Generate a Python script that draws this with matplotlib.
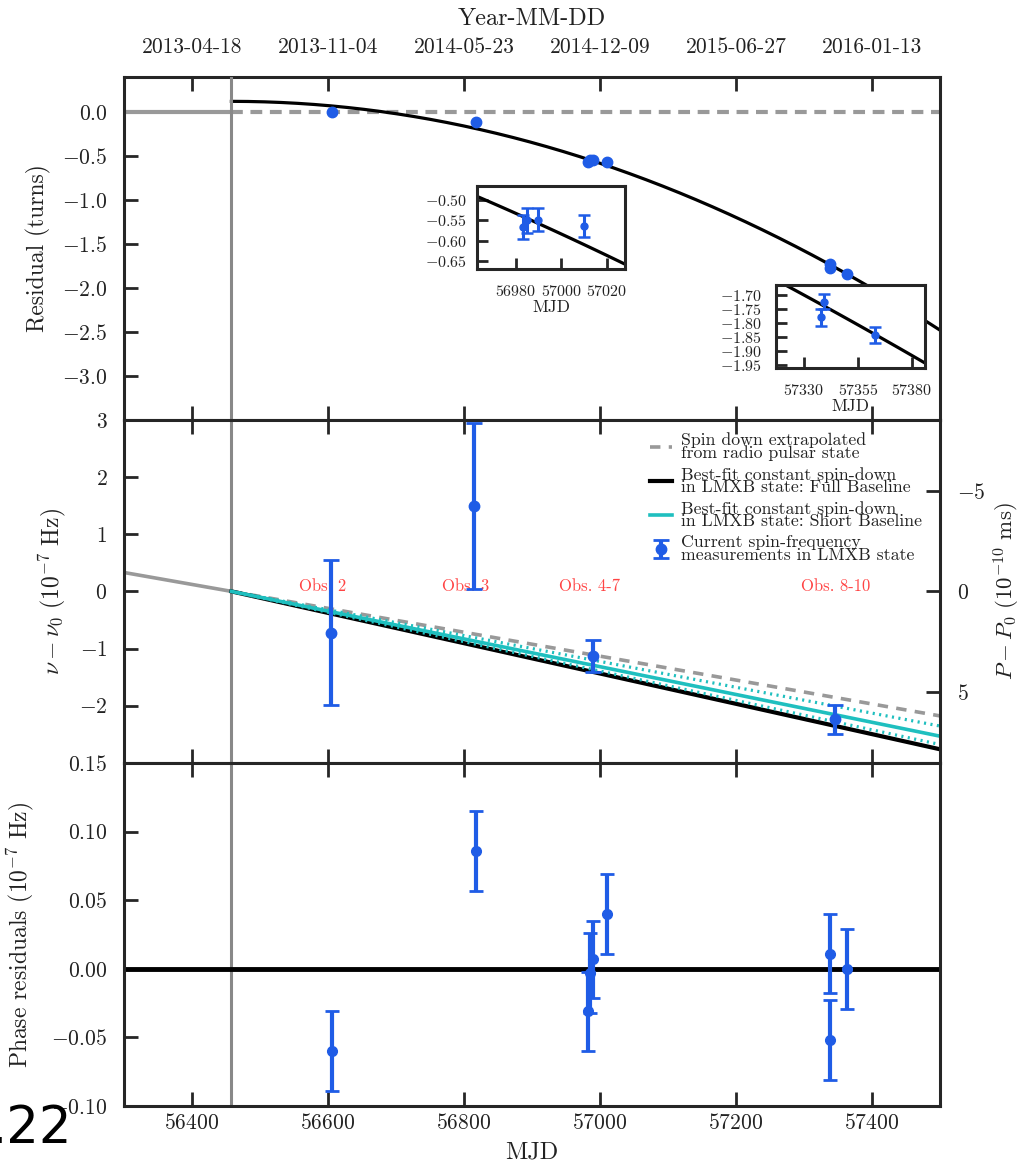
import numpy as np
import matplotlib
matplotlib.use("Agg")
from matplotlib import pyplot as plt
from datetime import datetime, timedelta

plt.rcParams["font.family"] = "serif"
plt.rcParams["font.serif"] = ["cmr10"]
plt.rcParams["mathtext.fontset"] = "cm"
plt.rcParams["axes.formatter.use_mathtext"] = True
plt.rcParams["axes.formatter.useoffset"] = False
plt.rcParams["lines.scale_dashes"] = False

# state change radio pulsar -> LMXB
mjd_transition = 56458
mjd_range = (56300, 57500)
mjd_ticks = [56400, 56600, 56800, 57000, 57200, 57400]

# timing observations (one entry per observation)
obs_mjd = [56606, 56817, 56983, 56985, 56990, 57010, 57338, 57339, 57363]
phase_turns = [0.00, -0.11, -0.567, -0.550, -0.548, -0.564, -1.780, -1.724, -1.843]
phase_err = [0.03, 0.03, 0.03, 0.03, 0.028, 0.028, 0.03, 0.028, 0.028]
resid = [-0.060, 0.086, -0.031, -0.003, 0.007, 0.040, -0.052, 0.011, 0.000]
resid_err = [0.029, 0.029, 0.029, 0.029, 0.028, 0.029, 0.029, 0.029, 0.029]

# quadratic phase model (turns, days)
fit_phase0 = 0.12
fit_phase_ddot = -2.395e-6

# spin-frequency measurements, 1e-7 Hz
freq_mjd = [56604, 56815, 56990, 57345]
freq_nu = [-0.72, 1.49, -1.13, -2.24]
freq_nu_err = [1.27, 1.45, 0.275, 0.255]
obs_labels = ["Obs. 2", "Obs. 3", "Obs. 4-7", "Obs. 8-10"]
obs_label_mjd = [56592, 56802, 56985, 57347]

# spin-down rates, 1e-7 Hz / day
nudot_radio = -2.09e-3
nudot_full = -2.65e-3
nudot_short = -2.43e-3
nudot_short_lo = -2.57e-3
nudot_short_hi = -2.26e-3
nu0 = 592.42  # Hz

blue = "#1f5ce6"
teal = "#1fbfbf"
grey = "#999999"
dark = "#262626"
txt = "#222222"


def mjd_to_date(m):
    return (datetime(1858, 11, 17) + timedelta(days=m)).strftime("%Y-%m-%d")


def style(ax, labelsize=15.5, length=10, pad=12, xpad=9):
    for s in ax.spines.values():
        s.set_linewidth(2.2)
        s.set_color(dark)
    ax.tick_params(direction="in", length=length, width=2, color=dark,
                   top=True, bottom=True, left=True, right=False,
                   labelsize=labelsize, labelcolor=txt, pad=pad)
    ax.tick_params(axis="x", pad=xpad)


fig = plt.figure(figsize=(10.22, 11.73), dpi=100)
left, width, h = 0.1213, 0.7984, 0.2925
ax1 = fig.add_axes([left, 0.6421, width, h])
ax2 = fig.add_axes([left, 0.3496, width, h])
ax3 = fig.add_axes([left, 0.0571, width, h])

t_fit = np.linspace(mjd_transition, mjd_range[1], 300)
phase_fit = fit_phase0 + fit_phase_ddot * (t_fit - mjd_transition) ** 2

# ---- top: phase residuals in turns
ax1.plot([mjd_range[0], mjd_transition], [0, 0], color=grey, lw=3)
ax1.plot([mjd_transition, mjd_range[1]], [0, 0], color=grey, lw=3,
         dashes=(8.5, 5.5))
ax1.axvline(mjd_transition, color="#888888", lw=2.2, zorder=3)
ax1.plot(t_fit, phase_fit, color="black", lw=2.3)
ax1.errorbar(obs_mjd, phase_turns, yerr=phase_err, fmt="o", color=blue,
             ms=7.5, elinewidth=2, capsize=0, zorder=4)
ax1.set_xlim(mjd_range)
ax1.set_ylim(-3.5, 0.4)
ax1.set_yticks([-3.0, -2.5, -2.0, -1.5, -1.0, -0.5, 0.0])
ax1.set_xticks(mjd_ticks)
ax1.set_xticklabels([mjd_to_date(m) for m in mjd_ticks])
style(ax1, xpad=14)
ax1.tick_params(axis="x", labeltop=True, labelbottom=False)
ax1.xaxis.set_label_position("top")
ax1.set_xlabel("Year-MM-DD", fontsize=17.5, color=txt, labelpad=9)
ax1.set_ylabel("Residual (turns)", fontsize=17, color=txt)
ax1.yaxis.set_label_coords(-0.089, 0.5)

# insets zooming on the clustered observations
insets = [
    ([0.4667, 0.7707, 0.1448, 0.0708], (56963, 57028), (-0.67, -0.465),
     [56980, 57000, 57020], [-0.65, -0.60, -0.55, -0.50], 7),
    ([0.7593, 0.6863, 0.1458, 0.0708], (57317, 57386), (-1.96, -1.665),
     [57330, 57355, 57380], [-1.95, -1.90, -1.85, -1.80, -1.75, -1.70], 10),
]
for rect, xl, yl, xt, yt, ypad in insets:
    ins = fig.add_axes(rect)
    ins.set_facecolor("white")
    tt = np.linspace(xl[0], xl[1], 50)
    ins.plot(tt, fit_phase0 + fit_phase_ddot * (tt - mjd_transition) ** 2,
             color="black", lw=2.3)
    ins.errorbar(obs_mjd, phase_turns, yerr=phase_err, fmt="o", color=blue,
                 ms=5, elinewidth=2.2, capsize=4, capthick=1.8)
    ins.set_xlim(xl)
    ins.set_ylim(yl)
    ins.set_xticks(xt)
    ins.set_yticks(yt)
    for s in ins.spines.values():
        s.set_linewidth(2.2)
        s.set_color(dark)
    ins.tick_params(direction="in", length=8, width=2, color=dark,
                    labelsize=11.5, labelcolor=txt)
    ins.tick_params(axis="x", pad=11)
    ins.tick_params(axis="y", pad=ypad)
    ins.set_xlabel("MJD", fontsize=12.5, color=txt, labelpad=0)

# ---- middle: spin frequency evolution
t_radio = np.array([mjd_range[0], mjd_transition])
t_lmxb = np.array([mjd_transition, mjd_range[1]])
ax2.axvline(mjd_transition, color="#888888", lw=2.2, zorder=1)
ax2.plot(t_radio, nudot_radio * (t_radio - mjd_transition), color=grey, lw=2.6)
h_radio, = ax2.plot(t_lmxb, nudot_radio * (t_lmxb - mjd_transition),
                    color=grey, lw=2.6, dashes=(7.5, 6))
h_full, = ax2.plot(t_lmxb, nudot_full * (t_lmxb - mjd_transition),
                   color="black", lw=3)
for rate in (nudot_short_lo, nudot_short_hi):
    ax2.plot(t_lmxb, rate * (t_lmxb - mjd_transition), color=teal, lw=2.3,
             dashes=(1.5, 3.2))
h_short, = ax2.plot(t_lmxb, nudot_short * (t_lmxb - mjd_transition),
                    color=teal, lw=2.6)
h_meas = ax2.errorbar(freq_mjd, freq_nu, yerr=freq_nu_err, fmt="o",
                      color=blue, ms=7.5, elinewidth=3, capsize=6,
                      capthick=2, zorder=5)
for m, lab in zip(obs_label_mjd, obs_labels):
    ax2.text(m, 0.08, lab, color="#ff4444", fontsize=12, ha="center",
             va="center")
ax2.set_xlim(mjd_range)
ax2.set_ylim(-3, 3)
ax2.set_yticks([-2, -1, 0, 1, 2, 3])
ax2.set_xticks(mjd_ticks)
style(ax2)
ax2.tick_params(axis="x", labelbottom=False)
ax2.set_ylabel(r"$\nu - \nu_0\ (10^{-7}\ \mathrm{Hz})$", fontsize=17,
               color=txt)
ax2.yaxis.set_label_coords(-0.068, 0.5)

leg = ax2.legend(
    [h_radio, h_full, h_short, h_meas],
    ["Spin down extrapolated\nfrom radio pulsar state",
     "Best-fit constant spin-down\nin LMXB state: Full Baseline",
     "Best-fit constant spin-down\nin LMXB state: Short Baseline",
     "Current spin-frequency\nmeasurements in LMXB state"],
    loc="upper left", bbox_to_anchor=(0.63, 1.0), frameon=False,
    fontsize=12.8, handlelength=1.2, handletextpad=0.5, labelspacing=0.3,
    borderaxespad=0.3)
for t in leg.get_texts():
    t.set_linespacing(0.8)
    t.set_color(txt)

# period axis: dP = -dnu / nu0^2
p_per_nu = 1e-7 / nu0 ** 2 * 1e3 / 1e-10
tw = ax2.twinx()
tw.set_ylim(-p_per_nu * -3, -p_per_nu * 3)
tw.set_yticks([-5, 0, 5])
for s in tw.spines.values():
    s.set_visible(False)
tw.tick_params(direction="in", length=10, width=2, color=dark,
               labelsize=15.5, labelcolor=txt, pad=12)
tw.set_ylabel(r"$P - P_0\ (10^{-10}\ \mathrm{ms})$", fontsize=16.5, color=txt,
              labelpad=5)

# ---- bottom: residuals of the frequency fit
ax3.axvline(mjd_transition, color="#888888", lw=2.2, zorder=1)
ax3.axhline(0, color="black", lw=3.5, zorder=2)
ax3.errorbar(obs_mjd, resid, yerr=resid_err, fmt="o", color=blue, ms=7,
             elinewidth=3, capsize=5, capthick=2, zorder=4)
ax3.set_xlim(mjd_range)
ax3.set_ylim(-0.10, 0.15)
ax3.set_yticks([-0.10, -0.05, 0.00, 0.05, 0.10, 0.15])
ax3.set_xticks(mjd_ticks)
style(ax3, xpad=5)
ax3.set_xlabel("MJD", fontsize=17.5, color=txt, labelpad=6)
ax3.set_ylabel(r"Phase residuals $(10^{-7}\ \mathrm{Hz})$", fontsize=17,
               color=txt)
ax3.yaxis.set_label_coords(-0.108, 0.5)

fig.text(-10 / 1022, 30 / 1173, ".22", fontsize=37, family="DejaVu Sans",
         ha="left", va="baseline", color="black")

fig.savefig("out.png", dpi=100)
